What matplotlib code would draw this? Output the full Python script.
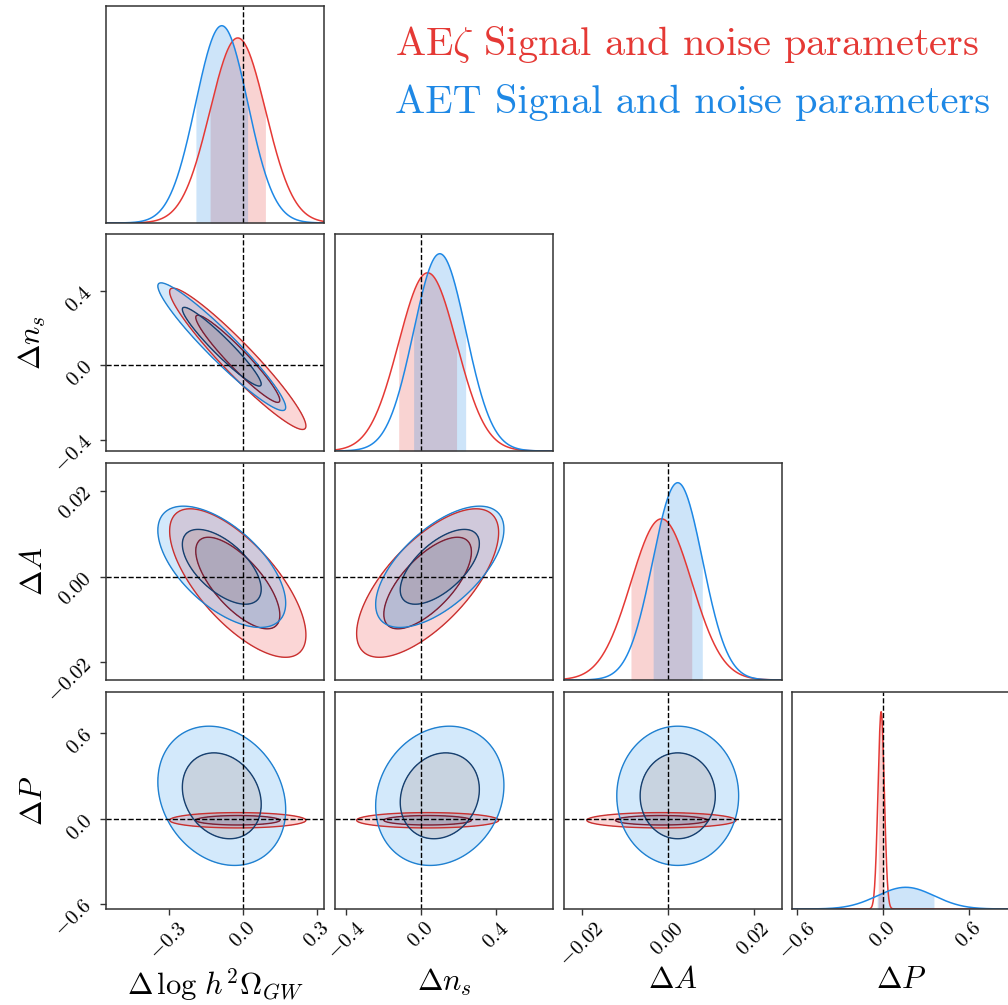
import numpy as np
import matplotlib
matplotlib.use("Agg")
import matplotlib.pyplot as plt

plt.rcParams["font.family"] = "serif"
plt.rcParams["font.serif"] = ["cmr10"]
plt.rcParams["mathtext.fontset"] = "cm"
plt.rcParams["axes.formatter.use_mathtext"] = True

# parameters of the corner plot
labels = [r"$\Delta\,\log\,h^2\Omega_{GW}$", r"$\Delta n_s$", r"$\Delta A$", r"$\Delta P$"]
limits = [(-0.555, 0.33), (-0.46, 0.705), (-0.0242, 0.0266), (-0.636, 0.89)]
ticks = [[-0.3, 0.0, 0.3], [-0.4, 0.0, 0.4], [-0.02, 0.0, 0.02], [-0.6, 0.0, 0.6]]
tick_labels = [[r"$-0.3$", r"$0.0$", r"$0.3$"],
               [r"$-0.4$", r"$0.0$", r"$0.4$"],
               [r"$-0.02$", r"$0.00$", r"$0.02$"],
               [r"$-0.6$", r"$0.0$", r"$0.6$"]]
truth = [0.0, 0.0, 0.0, 0.0]

# AEzeta chain (red): mean, sigma, correlations
red_mean = [-0.02, 0.035, -0.0015, -0.012]
red_sigma = [0.113, 0.155, 0.0071, 0.022]
red_corr = [[1.00, -0.95, -0.70, 0.00],
            [-0.95, 1.00, 0.68, 0.00],
            [-0.70, 0.68, 1.00, 0.00],
            [0.00, 0.00, 0.00, 1.00]]

# AET chain (blue)
blue_mean = [-0.085, 0.10, 0.0023, 0.16]
blue_sigma = [0.106, 0.140, 0.0058, 0.20]
blue_corr = [[1.00, -0.95, -0.60, -0.20],
             [-0.95, 1.00, 0.62, 0.15],
             [-0.60, 0.62, 1.00, 0.00],
             [-0.20, 0.15, 0.00, 1.00]]

chains = [
    dict(name=r"AE$\zeta$ Signal and noise parameters", mean=red_mean, sigma=red_sigma, corr=red_corr,
         line="#E53935", outer_fill="#f04848", inner_fill="#8a3a55",
         outer_line="#c9302f", inner_line="#7b2035"),
    dict(name="AET Signal and noise parameters", mean=blue_mean, sigma=blue_sigma, corr=blue_corr,
         line="#1E88E5", outer_fill="#3a9ff0", inner_fill="#4a6f9a",
         outer_line="#1f80d0", inner_line="#173f6e"),
]

r68 = -2 * np.log(1 - 0.68)
r95 = -2 * np.log(1 - 0.95)

W, H = 1008, 1005
col_left = [106, 335, 564, 792]
row_top = [6, 234, 463, 692]
pw, ph = 218, 217

fig = plt.figure(figsize=(W / 100, H / 100), dpi=100)

for i in range(4):
    for j in range(i + 1):
        ax = fig.add_axes([col_left[j] / W, 1 - (row_top[i] + ph) / H, pw / W, ph / H])
        x = np.linspace(limits[j][0], limits[j][1], 600)
        if i == j:
            top = 0
            for c in chains:
                m, s = c["mean"][j], c["sigma"][j]
                pdf = np.exp(-0.5 * ((x - m) / s) ** 2) / (s * np.sqrt(2 * np.pi))
                top = max(top, pdf.max())
                ax.plot(x, pdf, color=c["line"], lw=1.1)
                inside = (x >= m - s) & (x <= m + s)
                ax.fill_between(x[inside], 0, pdf[inside], color=c["line"], alpha=0.22, lw=0)
            ax.set_ylim(0, 1.1 * top)
            ax.axvline(truth[j], color="k", ls="--", lw=1)
        else:
            y = np.linspace(limits[i][0], limits[i][1], 600)
            X, Y = np.meshgrid(x, y)
            for c in chains:
                mx, my = c["mean"][j], c["mean"][i]
                sx, sy = c["sigma"][j], c["sigma"][i]
                rho = c["corr"][i][j]
                u = (X - mx) / sx
                v = (Y - my) / sy
                R = (u ** 2 - 2 * rho * u * v + v ** 2) / (1 - rho ** 2)
                ax.contourf(X, Y, R, levels=[r68, r95], colors=[c["outer_fill"]], alpha=0.22)
                ax.contourf(X, Y, R, levels=[0, r68], colors=[c["inner_fill"]], alpha=0.3)
                ax.contour(X, Y, R, levels=[r68, r95],
                           colors=[c["inner_line"], c["outer_line"]], linewidths=1.0)
            ax.axvline(truth[j], color="k", ls="--", lw=1)
            ax.axhline(truth[i], color="k", ls="--", lw=1)
            ax.set_ylim(limits[i])
        ax.set_xlim(limits[j])

        for sp in ax.spines.values():
            sp.set_color("#333333")
            sp.set_linewidth(1.1)
        ax.tick_params(direction="out", length=4, width=1, color="#333333")

        if i == 3:
            ax.set_xticks(ticks[j])
            ax.set_xticklabels(tick_labels[j], rotation=45, fontsize=15)
            ax.set_xlabel(labels[j], fontsize=22)
            ax.xaxis.set_label_coords(0.5, -0.265)
        else:
            ax.set_xticks([])
        if j == 0 and i > 0:
            ax.set_yticks(ticks[i])
            ax.set_yticklabels(tick_labels[i], rotation=45, fontsize=15)
            ax.set_ylabel(labels[i], fontsize=22)
            ax.yaxis.set_label_coords(-0.265, 0.5)
        else:
            ax.set_yticks([])

fig.text(395 / W, 1 - 55 / H, chains[0]["name"], color=chains[0]["line"], fontsize=29, va="baseline")
fig.text(395 / W, 1 - 113 / H, chains[1]["name"], color=chains[1]["line"], fontsize=29, va="baseline")

fig.savefig("out.png", dpi=100)
